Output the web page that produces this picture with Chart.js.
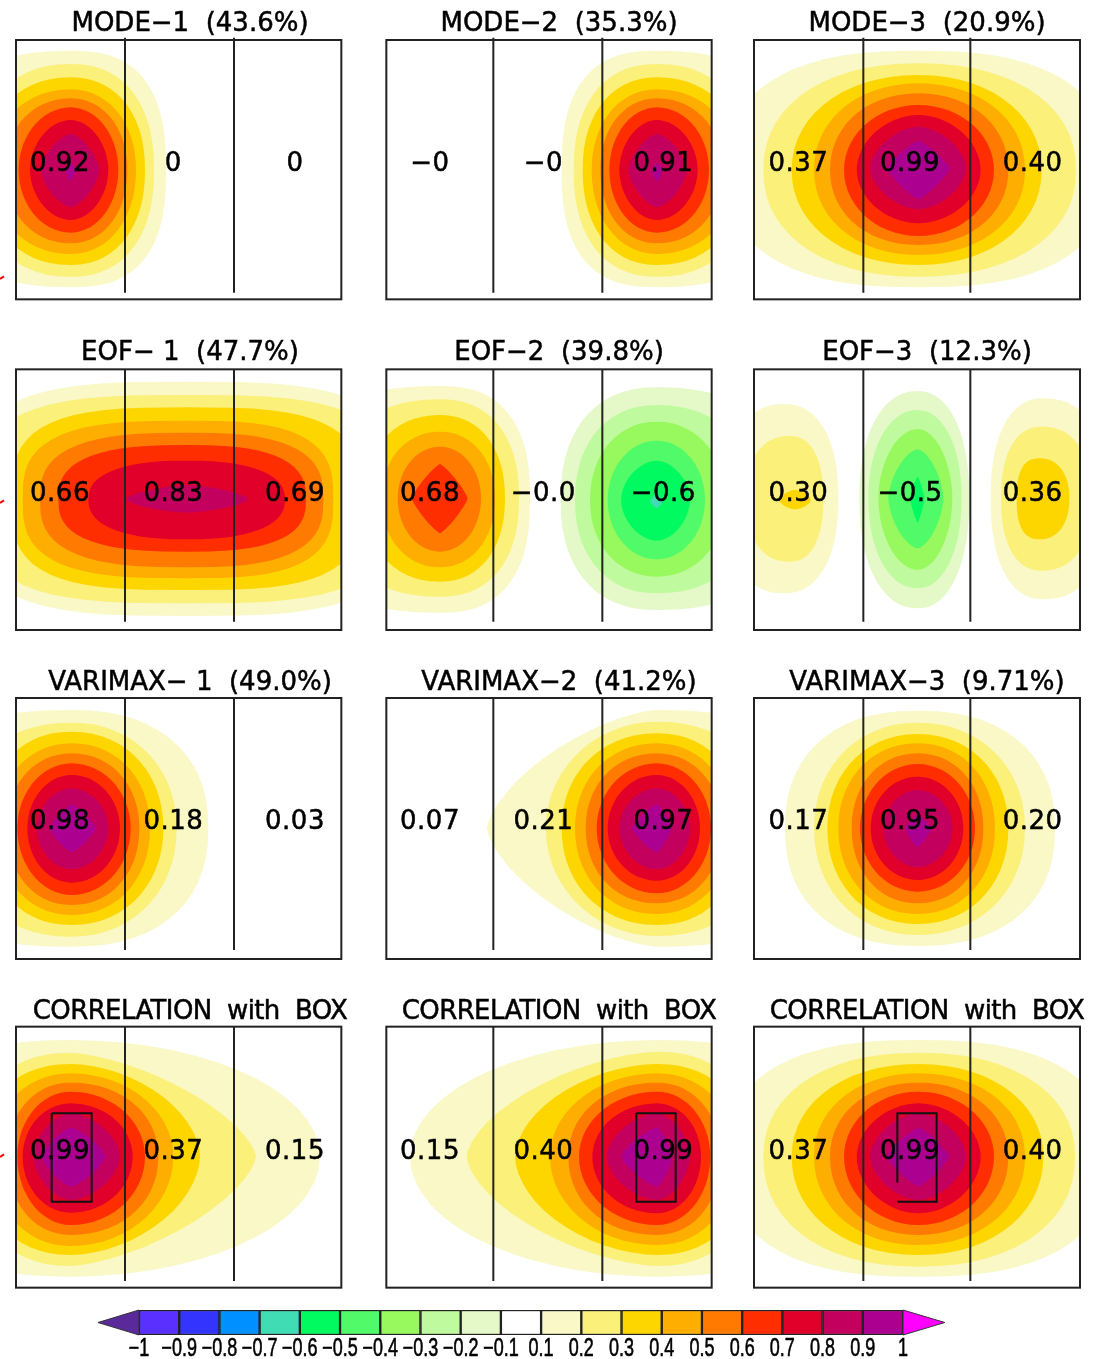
<!DOCTYPE html>
<html><head><meta charset="utf-8">
<script src="https://cdn.jsdelivr.net/npm/chart.js@4"></script>
<style>
html,body{margin:0;padding:0;background:#fff}
body{position:relative;width:1102px;height:1359px;overflow:hidden}
canvas{position:absolute;display:block}
</style></head><body>
<script>
// Contour rows: [level, left, top, right, bottom, centreX, centreY, bendLeft, bendRight]
const mode1=[[.1,-191,152,498,862,212,510,2.5,2.6],[.2,-68,192,462,830,212,510,2.3,2.3],[.3,-47,232,435,795,212,510,2.2,2.2],[.4,-27,268,408,762,212,510,2.1,2.1],[.5,15,295,382,730,212,510,2.1,2.1],[.6,56,322,355,698,212,510,2,2],[.7,90,360,325,660,212,510,1.9,1.9],[.8,122,402,298,622,212,510,1.5,1.5],[.9,195,490,228,545,212,510,1.2,1.2]];
const mode2=[[.1,560,152,1249,862,846,510,2.6,2.5],[.2,596,192,1126,830,846,510,2.3,2.3],[.3,623,232,1105,795,846,510,2.2,2.2],[.4,650,268,1085,762,846,510,2.1,2.1],[.5,676,295,1043,730,846,510,2.1,2.1],[.6,703,322,1002,698,846,510,2,2],[.7,733,360,968,660,846,510,1.9,1.9],[.8,760,402,936,622,846,510,1.5,1.5],[.9,830,490,863,545,846,510,1.2,1.2]];
const mode3=[[.1,-40,152,1110,862,535,510,2.5,2.5],[.2,70,190,1008,830,535,510,2.2,2.2],[.3,155,225,905,795,535,510,2.1,2.1],[.4,222,250,855,765,535,510,2.1,2.1],[.5,270,280,805,735,535,510,2.1,2.1],[.6,312,315,762,708,535,510,2,2],[.7,350,345,722,670,535,510,1.9,1.9],[.8,390,380,678,628,535,505,1.7,1.7],[.9,440,422,630,598,535,505,1.2,1.2]];
const eof1=[[.1,-100,155,1220,858,560,508,3.2,3.2],[.2,-64,195,1184,820,560,508,3.2,3.2],[.3,35,232,1085,780,560,508,3.2,3.2],[.4,68,272,1000,745,560,508,3,3],[.5,120,308,970,712,560,508,2.8,2.8],[.6,175,345,918,665,560,508,2.7,2.7],[.7,265,392,855,628,560,508,2.4,2.4],[.8,378,465,745,548,560,508,1.5,1.5]];
const eof2=[[.1,-275,168,465,848,195,505,2.4,2.5],[.2,-130,208,432,800,195,505,2.3,2.3],[.3,-30,255,390,755,195,505,2.2,2.2],[.4,20,305,360,712,195,505,2.1,2.1],[.5,68,350,318,665,195,505,2,2],[.6,110,402,278,610,195,505,1.2,1.2],[-.1,557,172,1245,840,845,510,2.3,2.4],[-.2,600,225,1140,790,845,510,2.2,2.2],[-.3,645,275,1050,740,845,510,2.1,2.1],[-.4,698,332,990,688,845,510,2,2],[-.5,738,392,945,632,845,510,1.8,1.8],[-.6,825,490,862,535,845,515,1.2,1.2]];
const eof3=[[.1,-45,222,295,790,130,505,2.3,2.3],[.2,17,318,250,695,150,505,2.3,2.3],[.3,118,480,212,538,165,510,1.6,1.6],[-.1,358,183,688,835,533,505,2.2,2.2],[-.2,385,240,665,775,533,505,2.1,2.1],[-.3,415,297,637,720,533,505,1.9,1.9],[-.4,445,358,610,655,533,505,1.6,1.6],[-.5,510,440,553,578,533,505,1.2,1.2],[.1,752,205,1110,808,910,505,2.3,2.3],[.2,783,290,1055,722,905,505,2.3,2.3],[.3,830,385,988,628,900,505,2.6,2.2]];
const varimax1=[[.1,-345,150,625,860,215,505,2.4,2.3],[.2,-125,188,530,830,215,505,2.2,2.1],[.3,-40,215,490,795,215,505,2.2,2.1],[.4,-10,250,450,765,215,505,2.1,2.1],[.5,20,280,418,735,215,505,2.1,2.1],[.6,52,310,392,705,215,505,2,2],[.7,82,345,360,668,215,505,2,2],[.8,110,385,325,628,215,505,1.9,1.9],[.9,148,432,288,578,215,505,1.2,1.2]];
const varimax2=[[.1,336,150,1405,860,845,505,1.5,2.4],[.2,512,185,1185,828,845,505,2,2.2],[.3,560,220,1100,795,845,505,2.1,2.2],[.4,600,250,1070,762,845,505,2.1,2.1],[.5,632,280,1040,730,845,505,2.1,2.1],[.6,665,310,1008,700,845,505,2,2],[.7,698,345,975,662,845,505,2,2],[.8,733,385,945,628,845,505,1.9,1.9],[.9,770,432,890,578,845,505,1.2,1.2]];
const varimax3=[[.1,135,152,945,858,533,505,2.3,2.3],[.2,222,188,855,825,533,505,2.1,2.1],[.3,262,222,805,792,533,505,2.1,2.1],[.4,295,250,765,762,533,505,2.1,2.1],[.5,335,280,730,730,533,505,2.1,2.1],[.6,360,312,705,695,533,505,2,2],[.7,392,350,670,660,533,505,2,2],[.8,430,390,638,622,533,505,1.9,1.9],[.9,495,465,575,562,533,505,1.2,1.2]];
const corr1=[[.1,-328,150,960,860,212,500,2.4,2],[.2,-83,188,768,828,212,500,2.3,1.5],[.3,-63,222,600,795,212,500,2.2,1.8],[.4,-23,250,520,768,212,500,2.1,2],[.5,22,278,475,735,212,500,2.1,2.1],[.6,52,305,435,705,212,500,2,2],[.7,68,340,398,668,212,500,2,2],[.8,100,370,360,630,212,500,1.7,1.7],[.9,125,412,318,590,212,500,1.3,1.3]];
const corr2=[[.1,105,150,1386,860,846,500,2,2.4],[.2,275,185,1141,828,846,500,1.6,2.3],[.3,420,222,1121,795,846,500,1.8,2.2],[.4,525,250,1081,765,846,500,2,2.1],[.5,580,278,1036,735,846,500,2.1,2.1],[.6,612,305,1006,705,846,500,2,2],[.7,652,340,978,670,846,500,2,2],[.8,695,370,945,630,846,500,1.7,1.7],[.9,738,412,892,590,846,500,1.3,1.3]];
const corr3=[[.1,-40,150,1110,860,535,500,2.5,2.5],[.2,70,188,1005,830,535,500,2.2,2.2],[.3,155,222,910,795,535,500,2.1,2.1],[.4,222,250,855,765,535,500,2.1,2.1],[.5,270,278,805,735,535,500,2.1,2.1],[.6,312,305,762,705,535,500,2,2],[.7,350,340,722,670,535,500,1.9,1.9],[.8,390,370,678,630,535,500,1.7,1.7],[.9,440,412,628,590,535,500,1.2,1.2]];

const titles=["MODE−1  (43.6%)","MODE−2  (35.3%)","MODE−3  (20.9%)","EOF− 1  (47.7%)","EOF−2  (39.8%)","EOF−3  (12.3%)","VARIMAX− 1  (49.0%)","VARIMAX−2  (41.2%)","VARIMAX−3  (9.71%)","CORRELATION  with  BOX","CORRELATION  with  BOX","CORRELATION  with  BOX"];
const boxLabels=[["0.92","0","0"],["−0","−0","0.91"],["0.37","0.99","0.40"],["0.66","0.83","0.69"],["0.68","−0.0","−0.6"],["0.30","−0.5","0.36"],["0.98","0.18","0.03"],["0.07","0.21","0.97"],["0.17","0.95","0.20"],["0.99","0.37","0.15"],["0.15","0.40","0.99"],["0.37","0.99","0.40"]];
const fields=[mode1,mode2,mode3,eof1,eof2,eof3,varimax1,varimax2,varimax3,corr1,corr2,corr3];
const levelValues=[-.6,-.5,-.4,-.3,-.2,-.1,.1,.2,.3,.4,.5,.6,.7,.8,.9];
const levelColors=["#40dcb4","#00fa60","#50fa68","#98f95e","#c0fa9e","#e4f8c8","#f9f8c6","#faf07a","#fdd600","#fdae00","#ff7a00","#ff2e00","#e0002a","#c4005e","#ac0090"];
// Colour bar
const barLabels=["−1","−0.9","−0.8","−0.7","−0.6","−0.5","−0.4","−0.3","−0.2","−0.1","0.1","0.2","0.3","0.4","0.5","0.6","0.7","0.8","0.9","1"];
const barColors=["#5a30ff","#3434ff","#0090ff","#40dcb4","#00fa60","#50fa68","#98f95e","#c0fa9e","#e4f8c8","#ffffff","#f9f8c6","#faf07a","#fdd600","#fdae00","#ff7a00","#ff2e00","#e0002a","#c4005e","#ac0090"];
const arrowColors=["#5a2a9a","#ff00ff"];
const arrowTips=[-1.02,20.04];
// Page layout (crop units are 3 per pixel)
const colOrigin=[0,375,740], rowOrigin=[0,330,660,990];
const colX=[[48,1024],[34,1010],[42,1020]];
const rowY=[[120,898],[118,900],[114,897],[110,893]];
const dividerX=[[375,702],[355,682],[370,691]];
const dividerY=[[113,878],[118,875],[114,870],[110,873]];
const titleX=[570,552,561], titleY=[74,71,71,68];
const labelX=[[180,520,885],[165,505,865],[175,510,878]], labelY=[492,492,488,486];
const boxes=[[155,275],[784,902],[472,590]], boxY=[370,635];
const redTicks={0:833,3:515,9:497};

const FONT='"DejaVu Sans"';
const drawText=(g,t,x,y)=>{g.fillText(t,x,y);g.strokeText(t,x,y);};
const contourPlugin={id:'contours',
 beforeDatasetsDraw(c){const g=c.ctx,a=c.chartArea;g.save();g.beginPath();g.rect(a.left,a.top,a.right-a.left,a.bottom-a.top);g.clip();
  c.data.datasets.forEach((d,i)=>{if(!d.bends)return;const p=c.getDatasetMeta(i).data;
   const L=p[0].x,cy=p[0].y,cx=p[1].x,T=p[1].y,R=p[2].x,B=p[3].y;
   const quad=(xe,ye,n)=>{const out=[];for(let t=0;t<=15;t++){const th=t/15*Math.PI/2;const u=Math.pow(Math.cos(th),2/n),v=Math.pow(Math.sin(th),2/n);out.push([cx+(xe-cx)*u,cy+(ye-cy)*v]);}return out;};
   const q=[...quad(R,T,d.bends[1]).reverse(),...quad(L,T,d.bends[0]),...quad(L,B,d.bends[0]).reverse(),...quad(R,B,d.bends[1])];
   g.beginPath();q.forEach((s,k)=>k?g.lineTo(s[0],s[1]):g.moveTo(s[0],s[1]));g.closePath();g.fillStyle=d.backgroundColor;g.fill();});
  g.restore();},
 afterDatasetsDraw(c,args,o){const g=c.ctx,a=c.chartArea,x=c.scales.x,y=c.scales.y;
  g.save();g.strokeStyle='#222';g.lineWidth=2;g.strokeRect(a.left,a.top,a.right-a.left,a.bottom-a.top);
  g.fillStyle='#000';g.strokeStyle='#000';g.lineWidth=.5;g.textAlign='center';g.textBaseline='middle';g.font='26px '+FONT;
  g.letterSpacing='.5px';
  o.labels.forEach((t,i)=>drawText(g,t,x.getPixelForValue(o.labelX[i]),y.getPixelForValue(o.labelY)));
  g.letterSpacing=o.title.length>20?'-.6px':'0px';
  drawText(g,o.title,x.getPixelForValue(o.titleX),y.getPixelForValue(o.titleY));
  g.restore();}};

titles.forEach((title,idx)=>{
 const col=idx%3,row=Math.floor(idx/3);
 const cv=document.createElement('canvas');cv.style.left=colOrigin[col]+'px';cv.style.top=rowOrigin[row]+'px';cv.style.width='360px';cv.style.height='310px';cv.width=360;cv.height=310;document.body.appendChild(cv);
 const ds=fields[idx].map(r=>({data:[{x:r[1],y:r[6]},{x:r[5],y:r[2]},{x:r[3],y:r[6]},{x:r[5],y:r[4]}],showLine:false,pointRadius:0,clip:true,
   backgroundColor:levelColors[levelValues.indexOf(r[0])],bends:[r[7],r[8]]}));
 dividerX[col].forEach(v=>ds.push({data:[{x:v,y:dividerY[row][0]},{x:v,y:dividerY[row][1]}],showLine:true,pointRadius:0,borderColor:'#222',borderWidth:2,clip:false}));
 if(row===3){const b=boxes[col],t=boxY[0],e=boxY[1];
   const path=col===2?[[b[0],578],[b[0],t],[b[1],t],[b[1],e],[b[0],e]]:[[b[0],t],[b[1],t],[b[1],e],[b[0],e],[b[0],t]];
   ds.push({data:path.map(q=>({x:q[0],y:q[1]})),showLine:true,pointRadius:0,borderColor:'#111',borderWidth:2,clip:false});}
 if(redTicks[idx]!==undefined)ds.push({data:[{x:0,y:redTicks[idx]+4},{x:12,y:redTicks[idx]-4}],showLine:true,pointRadius:0,borderColor:'#f00',borderWidth:2,clip:false});
 new Chart(cv,{type:'scatter',data:{datasets:ds},plugins:[contourPlugin],options:{responsive:false,animation:false,
  layout:{padding:{left:colX[col][0]/3,right:360-colX[col][1]/3,top:rowY[row][0]/3,bottom:310-rowY[row][1]/3}},
  scales:{x:{type:'linear',min:colX[col][0],max:colX[col][1],display:false},y:{type:'linear',reverse:true,min:rowY[row][0],max:rowY[row][1],display:false}},
  plugins:{legend:{display:false},tooltip:{enabled:false},title:{display:false},
   contours:{labels:boxLabels[idx],labelX:labelX[col],labelY:labelY[row],title:title,titleX:titleX[col],titleY:titleY[row]}}}});
});

// Colour bar
const arrowPlugin={id:'arrows',afterDatasetsDraw(c){const g=c.ctx,x=c.scales.x,a=c.chartArea,m=(a.top+a.bottom)/2;
 [[arrowTips[0],0],[arrowTips[1],19]].forEach((t,i)=>{g.beginPath();g.moveTo(x.getPixelForValue(t[1]),a.top);g.lineTo(x.getPixelForValue(t[0]),m);g.lineTo(x.getPixelForValue(t[1]),a.bottom);g.closePath();g.fillStyle=arrowColors[i];g.fill();g.strokeStyle='#333';g.lineWidth=1;g.stroke();});
 g.save();g.fillStyle='#000';g.strokeStyle='#000';g.lineWidth=.6;g.textAlign='center';g.textBaseline='middle';g.font='25px "Liberation Sans"';
 barLabels.forEach((t,i)=>{g.save();g.translate(x.getPixelForValue(i),a.bottom+14);g.scale(.72,1);drawText(g,t,0,0);g.restore();});
 g.restore();}};
const bc=document.createElement('canvas');bc.style.left='0';bc.style.top='1300px';bc.style.width='1102px';bc.style.height='59px';bc.width=1102;bc.height=59;document.body.appendChild(bc);
new Chart(bc,{type:'bar',data:{labels:['scale'],datasets:barColors.map(col=>({data:[1],backgroundColor:col,borderColor:'#222',borderWidth:1.5,borderSkipped:false,categoryPercentage:1,barPercentage:1}))},
 plugins:[arrowPlugin],options:{indexAxis:'y',responsive:false,animation:false,layout:{padding:{left:139,right:199,top:10,bottom:24}},
 scales:{x:{type:'linear',stacked:true,min:0,max:19,display:false},y:{stacked:true,display:false}},
 plugins:{legend:{display:false},tooltip:{enabled:false}}}});
</script>
</body></html>
